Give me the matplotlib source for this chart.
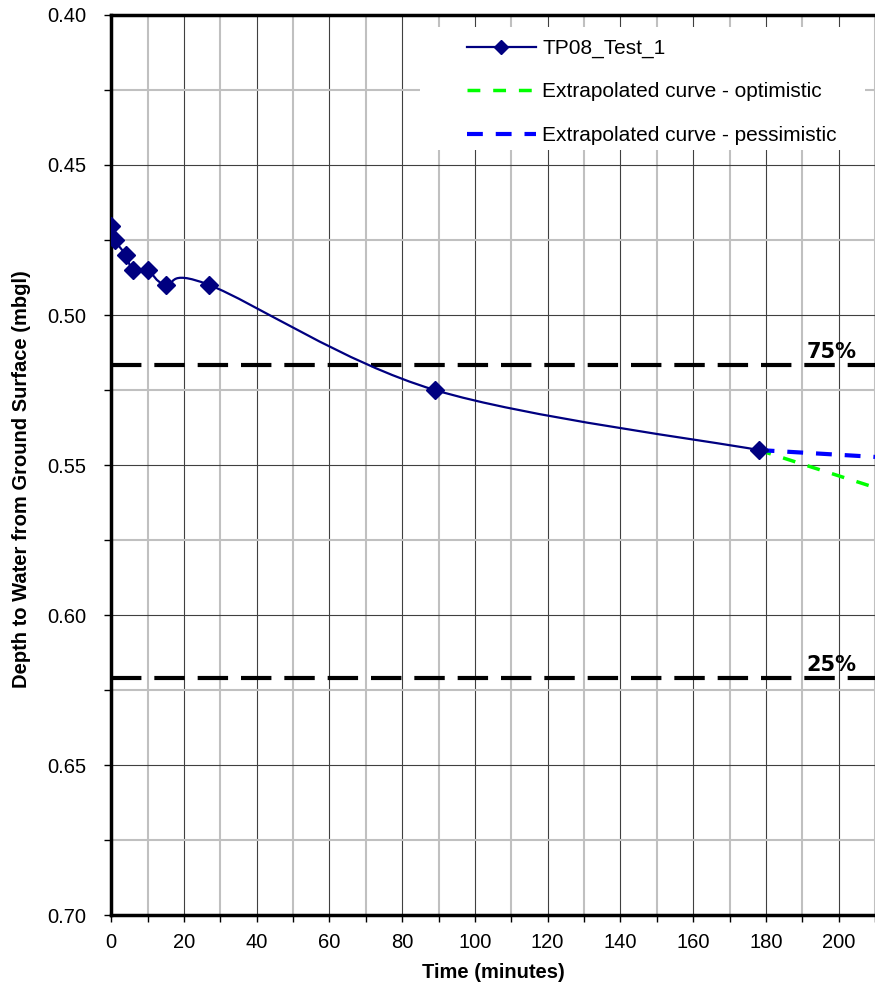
import numpy as np
import matplotlib
matplotlib.use('Agg')
import matplotlib.pyplot as plt
from matplotlib.path import Path
from matplotlib.patches import PathPatch, Rectangle
from matplotlib.lines import Line2D
from matplotlib.ticker import MultipleLocator

plt.rcParams['font.family'] = ['Liberation Sans', 'DejaVu Sans']

# Data
time_min = [0, 1, 4, 6, 10, 15, 27, 89, 178]
depth = [0.4705, 0.475, 0.480, 0.485, 0.485, 0.490, 0.490, 0.525, 0.545]

opt_time = [178, 210]
opt_depth = [0.545, 0.5575]
pes_time = [178, 210]
pes_depth = [0.545, 0.5473]

level_75 = 0.5167
level_25 = 0.621
level_names = ['75%', '25%']
levels = [level_75, level_25]


def smooth_path(x, y):
    # Excel style smoothed line: cubic bezier segments through the points
    x = np.asarray(x, float)
    y = np.asarray(y, float)
    n = len(x)
    verts = [(x[0], y[0])]
    codes = [Path.MOVETO]
    for i in range(n - 1):
        p0 = np.array([x[max(i - 1, 0)], y[max(i - 1, 0)]])
        p1 = np.array([x[i], y[i]])
        p2 = np.array([x[i + 1], y[i + 1]])
        p3 = np.array([x[min(i + 2, n - 1)], y[min(i + 2, n - 1)]])
        c1 = p1 + (p2 - p0) / 6.0
        c2 = p2 - (p3 - p1) / 6.0
        verts += [tuple(c1), tuple(c2), tuple(p2)]
        codes += [Path.CURVE4] * 3
    return Path(verts, codes)


fig = plt.figure(figsize=(8.75, 9.85), dpi=100)
ax = fig.add_axes([0.127, 0.071, 0.873, 0.9138])

navy = '#000080'
green = '#00ff00'
blue = '#0000ff'

# grid
ax.xaxis.set_major_locator(MultipleLocator(20))
ax.xaxis.set_minor_locator(MultipleLocator(10))
ax.yaxis.set_major_locator(MultipleLocator(0.05))
ax.yaxis.set_minor_locator(MultipleLocator(0.025))
ax.grid(which='major', color='#404040', linewidth=0.8, zorder=0)
ax.grid(which='minor', color='#c0c0c0', linewidth=1.5, zorder=0)
ax.set_axisbelow(True)

# threshold lines
for name, lev in zip(level_names, levels):
    ax.axhline(lev, color='black', linewidth=3.0, dashes=(7.3, 3.1), zorder=2)
    ax.text(198, lev - 0.0023, name, ha='center', va='baseline',
            fontsize=15, fontweight='bold', family='DejaVu Sans', zorder=3)

# extrapolations
ax.plot(opt_time, opt_depth, color=green, linewidth=2.5, dashes=(3.7, 3.7), zorder=3)
ax.plot(pes_time, pes_depth, color=blue, linewidth=3, dashes=(3.8, 3.1), zorder=3)

# main series
ax.add_patch(PathPatch(smooth_path(time_min, depth), facecolor='none',
                       edgecolor=navy, linewidth=1.6, zorder=4))
ax.plot(time_min, depth, linestyle='none', marker='D', markersize=9.5,
        color=navy, zorder=5)

ax.set_xlim(0, 210)
ax.set_ylim(0.70, 0.40)
yt = np.arange(0.40, 0.701, 0.05)
ax.set_yticks(yt)
ax.set_yticklabels(['%.2f' % v for v in yt])

for s in ['left', 'bottom', 'top']:
    ax.spines[s].set_linewidth(2.5)
    ax.spines[s].set_color('black')
ax.spines['right'].set_visible(False)

ax.tick_params(which='both', direction='out', length=5, width=1, labelsize=14.5,
               top=False, right=False)
ax.tick_params(axis='x', pad=8)
ax.tick_params(axis='y', pad=13)

ax.set_xlabel('Time (minutes)', fontsize=14.5, fontweight='bold', labelpad=8)
ax.set_ylabel('Depth to Water from Ground Surface (mbgl)', fontsize=14.5,
              fontweight='bold')
ax.yaxis.set_label_coords(-0.105, 0.484)

# legend with a white box behind it
ax.add_patch(Rectangle((0.404, 0.85), 0.583, 0.137, transform=ax.transAxes,
                       facecolor='white', edgecolor='none', zorder=6))
handles = [
    Line2D([], [], color=navy, linewidth=1.6, marker='D', markersize=7),
    Line2D([], [], color=green, linewidth=2.5, dashes=(3.7, 3.7)),
    Line2D([], [], color=blue, linewidth=3, dashes=(3.8, 3.1)),
]
labels = ['TP08_Test_1', 'Extrapolated curve - optimistic',
          'Extrapolated curve - pessimistic']
leg = ax.legend(handles, labels, loc='upper left', bbox_to_anchor=(0.466, 0.9735),
                frameon=False, fontsize=15, handlelength=3.3, labelspacing=1.17,
                borderpad=0, borderaxespad=0, handletextpad=0.3)
leg.set_zorder(7)

fig.savefig('out.png', dpi=100)
